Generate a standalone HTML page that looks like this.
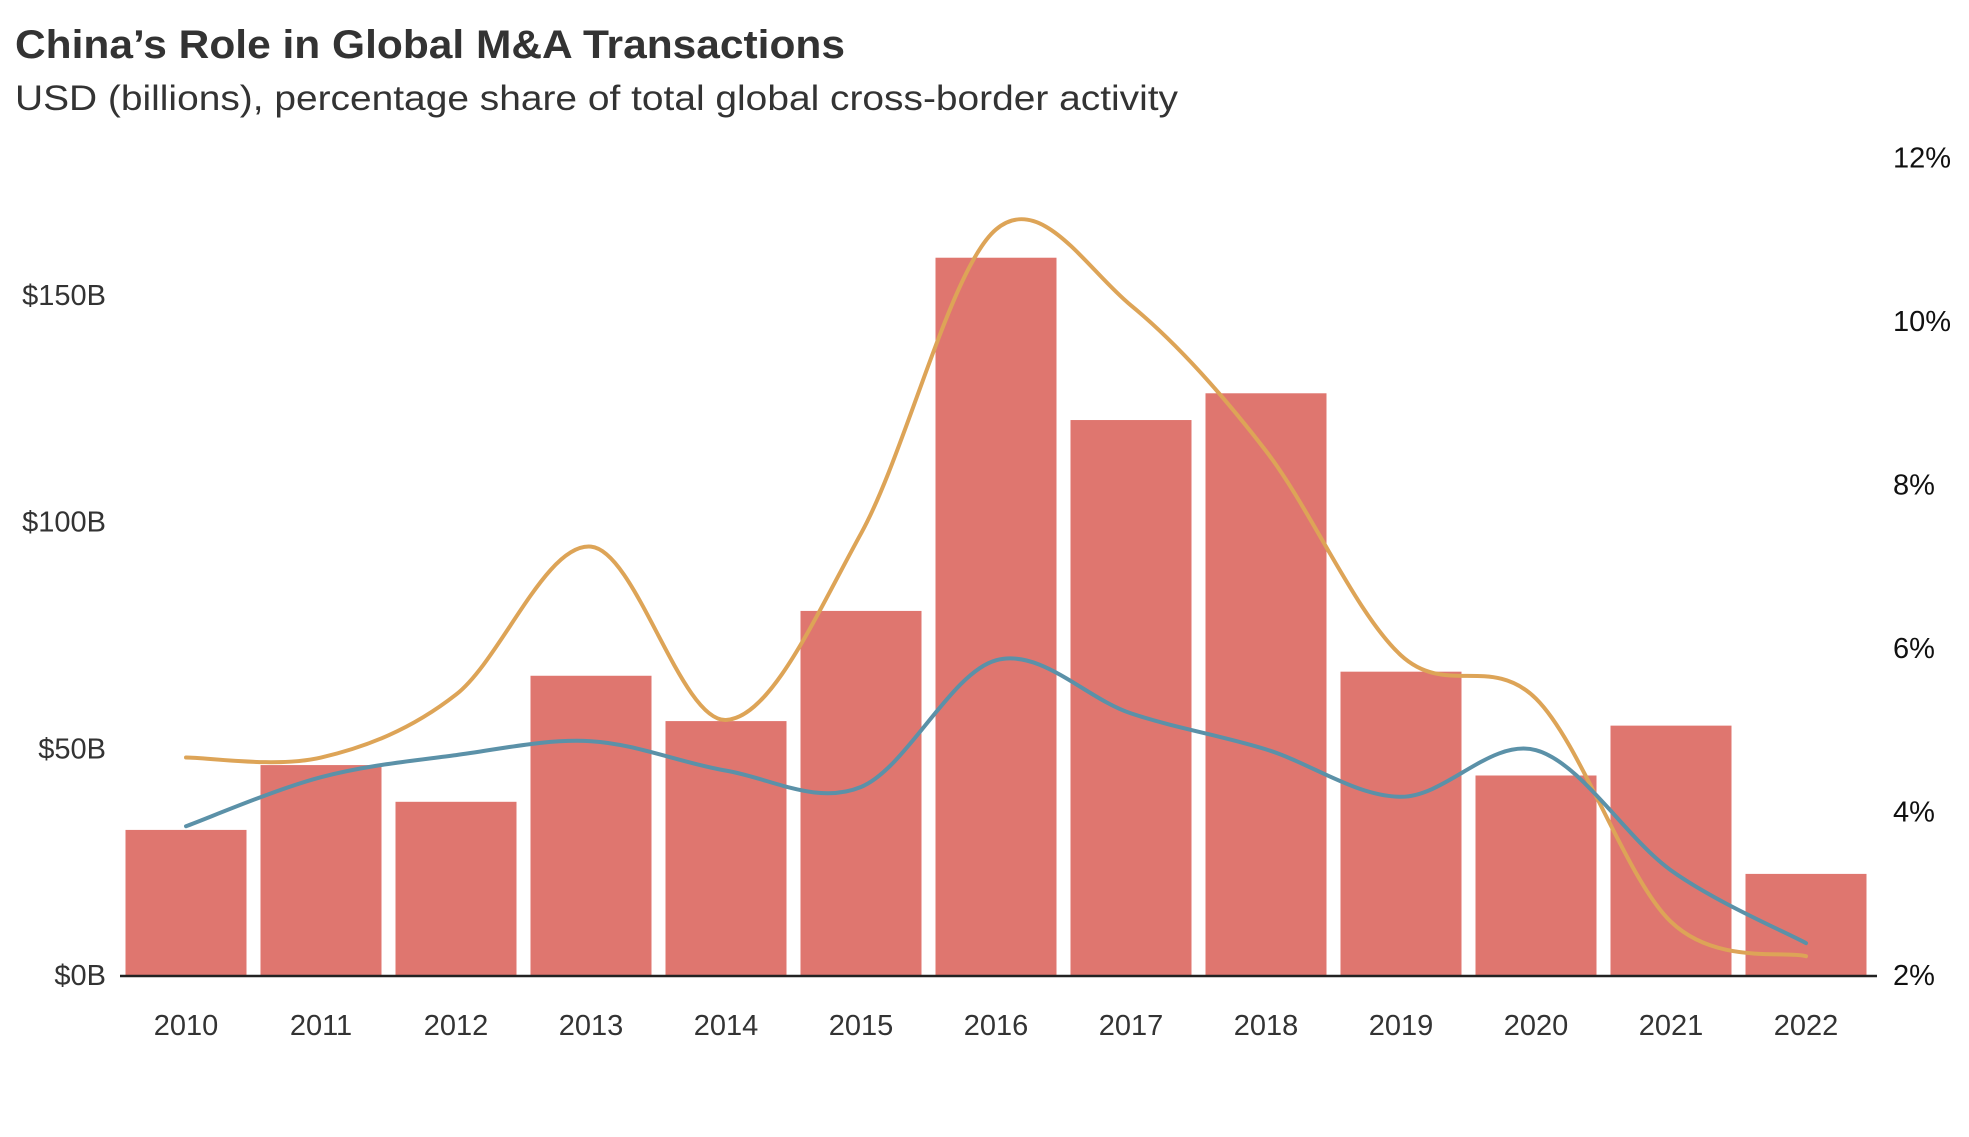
<!DOCTYPE html>
<html><head><meta charset="utf-8"><style>
html,body{margin:0;padding:0;background:#fff;}
svg{display:block;font-family:"Liberation Sans",sans-serif;}
</style></head><body>
<svg id="chart" width="1969" height="1137" viewBox="0 0 1969 1137" xmlns="http://www.w3.org/2000/svg">
<text x="15" y="58" font-size="40" font-weight="bold" fill="#333" textLength="830" lengthAdjust="spacingAndGlyphs">China’s Role in Global M&amp;A Transactions</text>
<text x="15" y="110" font-size="35" fill="#333" textLength="1163" lengthAdjust="spacingAndGlyphs">USD (billions), percentage share of total global cross-border activity</text>
<g id="bars"></g><g id="lines"></g><g id="axes"></g>
</svg>
<script>
const years=["2010","2011","2012","2013","2014","2015","2016","2017","2018","2019","2020","2021","2022"];
const dealValues=[32,46.3,38.2,66,56,80.3,158.2,122.4,128.3,66.9,44,55,22.3];
const orangeShare=[4.66,4.66,5.43,7.24,5.12,7.4,11.12,10.19,8.41,5.91,5.38,2.65,2.23];
const blueShare=[3.82,4.42,4.69,4.86,4.5,4.3,5.85,5.2,4.76,4.18,4.75,3.28,2.39];
const leftTicks=[0,50,100,150];
const leftTickLabels=["$0B","$50B","$100B","$150B"];
const rightTicks=[2,4,6,8,10,12];
const rightTickLabels=["2%","4%","6%","8%","10%","12%"];
const NS="http://www.w3.org/2000/svg";
const base=975, x0=186, step=135.0, bw=121;
const xs=i=>x0+i*step;
const yL=v=>base-v*(226.7/50);
const yR=v=>base-(v-2)*(163.5/2);
function mk(t,a,p){const e=document.createElementNS(NS,t);for(const k in a)e.setAttribute(k,a[k]);p.appendChild(e);return e;}
const gb=document.getElementById('bars'),gl=document.getElementById('lines'),ga=document.getElementById('axes');
dealValues.forEach((v,i)=>{
 const r=mk('rect',{x:xs(i)-bw/2,y:yL(v),width:bw,height:base-yL(v),fill:'#df766f'},gb);
 
 
});
function smooth(vals,col,name){
 const pts=vals.map((v,i)=>[xs(i),yR(v)]);
 let d='M'+pts[0][0]+','+pts[0][1];
 for(let i=0;i<pts.length-1;i++){
  const p0=pts[Math.max(0,i-1)],p1=pts[i],p2=pts[i+1],p3=pts[Math.min(pts.length-1,i+2)];
  const c1=[p1[0]+(p2[0]-p0[0])/6,p1[1]+(p2[1]-p0[1])/6];
  const c2=[p2[0]-(p3[0]-p1[0])/6,p2[1]-(p3[1]-p1[1])/6];
  d+=' C'+c1+' '+c2+' '+p2;
 }
 const p=mk('path',{d:d,fill:'none',stroke:col,'stroke-width':4,'stroke-linejoin':'round','stroke-linecap':'round'},gl);
 
 
}
smooth(orangeShare,'#dda457','orange-share-line');
smooth(blueShare,'#5b91a8','blue-share-line');
const ax=mk('line',{x1:120,x2:1877,y1:base+1,y2:base+1,stroke:'#222','stroke-width':2.5},ga);


leftTicks.forEach((v,i)=>{
 const t=mk('text',{x:106,y:yL(v)+10,'font-size':29,fill:'#333','text-anchor':'end'},ga);
 t.textContent=leftTickLabels[i];
 
 
});
rightTicks.forEach((v,i)=>{
 const t=mk('text',{x:1893,y:yR(v)+10,'font-size':29,fill:'#111'},ga);
 t.textContent=rightTickLabels[i];
 
 
});
years.forEach((y,i)=>{
 const t=mk('text',{x:xs(i),y:1035,'font-size':29,fill:'#333','text-anchor':'middle'},ga);
 t.textContent=y;
 
 
});
</script>
</body></html>
